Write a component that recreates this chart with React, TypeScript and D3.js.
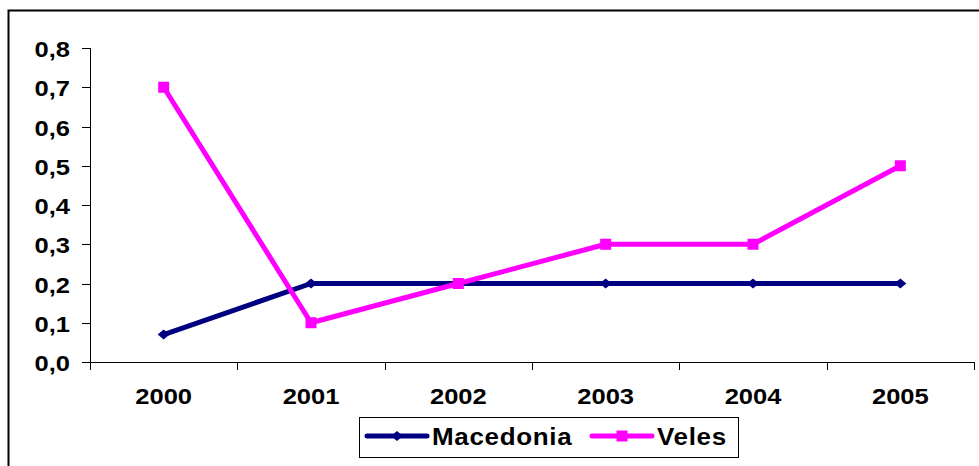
import React from "react";
import * as d3 from "d3";

const years = ["2000", "2001", "2002", "2003", "2004", "2005"];
const macedonia = [0.07, 0.2, 0.2, 0.2, 0.2, 0.2];
const veles = [0.7, 0.1, 0.2, 0.3, 0.3, 0.5];
const yTicks = [0, 0.1, 0.2, 0.3, 0.4, 0.5, 0.6, 0.7, 0.8];
const seriesNames = ["Macedonia", "Veles"];
const colors = ["#000080", "#FF00FF"];

const W = 979;
const H = 466;
const plot = { left: 90, right: 974, top: 48, bottom: 362 };
const FONT = "'Liberation Sans', Arial, sans-serif";
const SX = 1.16;

function StretchText({ x, y, anchor, children, size = 22 }: any) {
  return (
    <g transform={`translate(${x},${y}) scale(${SX},1)`}>
      <text
        x={0}
        y={0}
        textAnchor={anchor}
        fontFamily={FONT}
        fontWeight="bold"
        fontSize={size}
        fill="#000"
      >
        {children}
      </text>
    </g>
  );
}

function Marker({ kind, x, y, color }: any) {
  if (kind === 0) {
    const s = 6;
    return (
      <path
        d={`M${x - s},${y} L${x},${y - s + 1} L${x + s},${y} L${x},${y + s - 1} Z`}
        fill={color}
      />
    );
  }
  const s = 5.5;
  return <rect x={x - s} y={y - s} width={2 * s} height={2 * s} fill={color} />;
}

export default function App() {
  const x = d3.scaleBand().domain(years).range([plot.left, plot.right]);
  const y = d3.scaleLinear().domain([0, 0.8]).range([plot.bottom, plot.top]);
  const cx = (d: string) => (x(d) as number) + x.bandwidth() / 2;
  const line = d3
    .line<number>()
    .x((_, i) => cx(years[i]))
    .y((d) => y(d));
  const fmt = (v: number) => v.toFixed(1).replace(".", ",");
  const data = [macedonia, veles];
  const bounds = [...years.map((d) => x(d) as number), plot.right];

  const legend = { x: 359, y: 417, w: 379, h: 40 };
  const legendItems = [
    { lx: 367, tx: 432 },
    { lx: 592, tx: 657 },
  ];

  return (
    <svg
      width={W}
      height={H}
      style={{ position: "absolute", left: 0, top: 0, background: "#fff" }}
    >
      <rect x={0} y={0} width={W} height={H} fill="#fff" />
      {/* outer border */}
      <path d={`M8.5,${H + 5} L8.5,10.5 L${W + 5},10.5`} fill="none" stroke="#000" strokeWidth={2} />

      {/* axes */}
      <line x1={plot.left + 0.5} x2={plot.left + 0.5} y1={plot.top} y2={plot.bottom} stroke="#000" strokeWidth={1} />
      <line x1={plot.left} x2={plot.right} y1={plot.bottom + 0.5} y2={plot.bottom + 0.5} stroke="#000" strokeWidth={1} />
      {yTicks.map((t) => (
        <g key={t}>
          <line x1={plot.left - 8} x2={plot.left} y1={Math.round(y(t)) + 0.5} y2={Math.round(y(t)) + 0.5} stroke="#000" />
          <StretchText x={70} y={y(t) + 9} anchor="end">
            {fmt(t)}
          </StretchText>
        </g>
      ))}
      {bounds.map((b, i) => (
        <line key={i} x1={Math.round(b) + 0.5} x2={Math.round(b) + 0.5} y1={plot.bottom} y2={plot.bottom + 8} stroke="#000" />
      ))}
      {years.map((yr) => (
        <StretchText key={yr} x={cx(yr)} y={plot.bottom + 42} anchor="middle">
          {yr}
        </StretchText>
      ))}

      {/* series */}
      {data.map((vals, si) => (
        <g key={si}>
          <path d={line(vals) || ""} fill="none" stroke={colors[si]} strokeWidth={5} strokeLinejoin="round" />
          {vals.map((v, i) => (
            <Marker key={i} kind={si} x={cx(years[i])} y={y(v)} color={colors[si]} />
          ))}
        </g>
      ))}

      {/* legend */}
      <rect x={legend.x + 0.5} y={legend.y + 0.5} width={legend.w} height={legend.h} fill="#fff" stroke="#000" strokeWidth={1} />
      {seriesNames.map((n, i) => {
        const it = legendItems[i];
        const ly = legend.y + 19;
        return (
          <g key={n}>
            <line x1={it.lx} x2={it.lx + 60} y1={ly} y2={ly} stroke={colors[i]} strokeWidth={5} strokeLinecap="round" />
            <Marker kind={i} x={it.lx + 30} y={ly} color={colors[i]} />
            <g transform={`translate(${it.tx},${ly + 9}) scale(1.13,1)`}>
              <text x={0} y={0} fontFamily={FONT} fontWeight="bold" fontSize={23} letterSpacing={0.6} fill="#000">
                {n}
              </text>
            </g>
          </g>
        );
      })}
    </svg>
  );
}
